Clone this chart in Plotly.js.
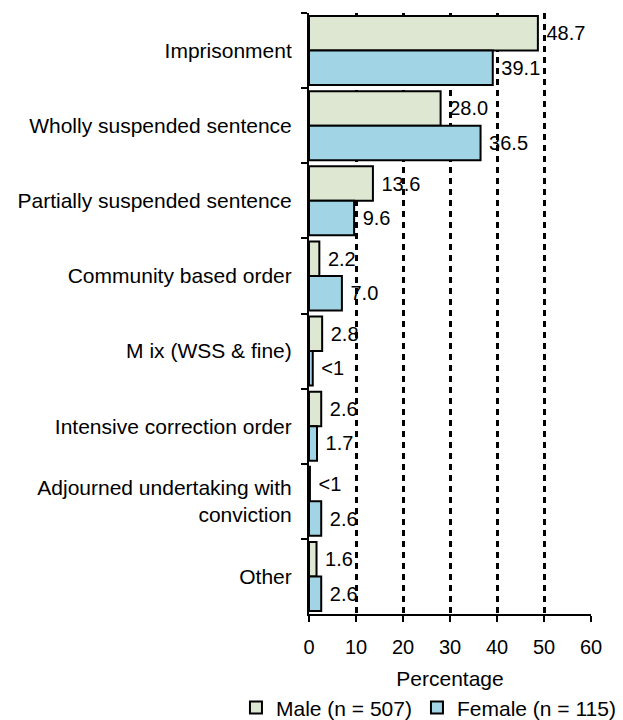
<!DOCTYPE html>
<html>
<head>
<meta charset="utf-8">
<script src="https://cdn.plot.ly/plotly-3.0.1.min.js"></script>
<style>html,body{margin:0;padding:0;background:#fff;}#chart{width:623px;height:720px;}</style>
</head>
<body>
<div id="chart"></div>
<script>
var categories = [
  "Imprisonment",
  "Wholly suspended sentence",
  "Partially suspended sentence",
  "Community based order",
  "M ix (WSS & fine)",
  "Intensive correction order",
  "Adjourned undertaking with<br>conviction",
  "Other"
];
var maleValues = [48.7, 28.0, 13.6, 2.2, 2.8, 2.6, 0.2, 1.6];
var maleLabels = ["48.7", "28.0", "13.6", "2.2", "2.8", "2.6", "<1", "1.6"];
var femaleValues = [39.1, 36.5, 9.6, 7.0, 0.8, 1.7, 2.6, 2.6];
var femaleLabels = ["39.1", "36.5", "9.6", "7.0", "<1", "1.7", "2.6", "2.6"];
var xTicks = [0, 10, 20, 30, 40, 50, 60];

var fam = "Liberation Sans, Arial, sans-serif";
var font = {family: fam, size: 20, color: "#000"};
var bigFont = {family: fam, size: 21, color: "#000"};
function pad(s) { return "\u00a0" + s; }

var male = {
  type: "bar", orientation: "h", name: "Male (n = 507)",
  y: categories, x: maleValues, text: maleLabels.map(pad),
  textposition: "outside", cliponaxis: false,
  textfont: font, hoverinfo: "none",
  marker: {color: "#dde7d1", line: {color: "#000", width: 2}}
};
var female = {
  type: "bar", orientation: "h", name: "Female (n = 115)",
  y: categories, x: femaleValues, text: femaleLabels.map(pad),
  textposition: "outside", cliponaxis: false,
  textfont: font, hoverinfo: "none",
  marker: {color: "#a1d4e4", line: {color: "#000", width: 2}}
};

var layout = {
  width: 623, height: 720,
  margin: {l: 309, r: 32, t: 13, b: 106, autoexpand: false},
  paper_bgcolor: "#fff", plot_bgcolor: "#fff",
  font: font,
  barmode: "group", bargap: 0.08, bargroupgap: 0,
  showlegend: true,
  legend: {orientation: "h", x: -0.259, xanchor: "left", y: -0.156, yanchor: "middle",
           font: bigFont, bgcolor: "rgba(0,0,0,0)"},
  xaxis: {
    range: [0, 60], tickvals: xTicks, ticktext: xTicks.map(String),
    showgrid: true, gridcolor: "#000", gridwidth: 3, griddash: "6px,5px",
    zeroline: false, showline: true, linecolor: "#000", linewidth: 2,
    ticks: "outside", ticklen: 6, tickwidth: 2, tickcolor: "#000",
    tickfont: font, ticklabelstandoff: 8,
    title: {text: "Percentage", font: bigFont, standoff: 14}
  },
  yaxis: {
    type: "category", autorange: "reversed",
    showgrid: false, zeroline: false, showline: true, linecolor: "#000", linewidth: 2,
    ticks: "outside", ticklen: 6, tickwidth: 2, tickcolor: "#000",
    tickson: "boundaries", tickfont: bigFont, ticklabelstandoff: 11
  }
};

Plotly.newPlot("chart", [male, female], layout, {displayModeBar: false, staticPlot: true});
</script>
</body>
</html>
